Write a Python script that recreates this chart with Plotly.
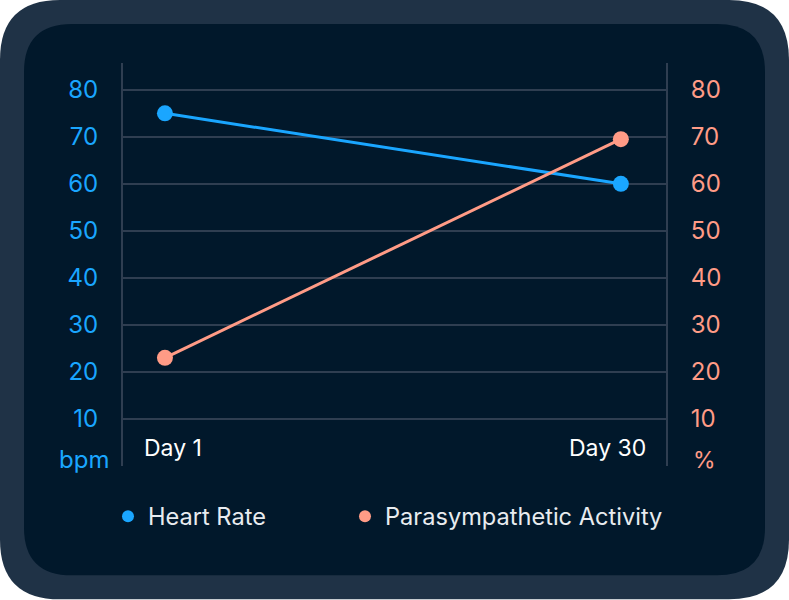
import plotly.graph_objects as go

days = ["Day 1", "Day 30"]
heart_rate = [75, 60]
parasympathetic = [23, 69.5]
y_ticks = [10, 20, 30, 40, 50, 60, 70, 80]
left_unit = "bpm"
right_unit = "%"

BLUE = "#1aa6ff"
SALMON = "#ff9b86"
OUTER = "#1f3246"
INNER = "#01182b"
GRID = "#2f3e51"
FONT = "Inter"

W, H = 789, 600
L, R, T, B = 123, 666, 63, 466.5
x_pos = [0, 1]

def px2paper(px, py):
    return (px - L) / (R - L), (B - py) / (B - T)

def rrect(x0, y0, x1, y1, r):
    def p(x, y):
        a, b = px2paper(x, y)
        return f"{a:.5f},{b:.5f}"
    d = f"M {p(x0 + r, y0)} L {p(x1 - r, y0)} Q {p(x1, y0)} {p(x1, y0 + r)} "
    d += f"L {p(x1, y1 - r)} Q {p(x1, y1)} {p(x1 - r, y1)} "
    d += f"L {p(x0 + r, y1)} Q {p(x0, y1)} {p(x0, y1 - r)} "
    d += f"L {p(x0, y0 + r)} Q {p(x0, y0)} {p(x0 + r, y0)} Z"
    return d

fig = go.Figure()
fig.add_trace(go.Scatter(x=x_pos, y=heart_rate, mode="lines+markers",
                         line=dict(color=BLUE, width=3), marker=dict(size=16, color=BLUE),
                         showlegend=False, yaxis="y"))
fig.add_trace(go.Scatter(x=x_pos, y=parasympathetic, mode="lines+markers",
                         line=dict(color=SALMON, width=3), marker=dict(size=16, color=SALMON),
                         showlegend=False, yaxis="y2"))
fig.add_trace(go.Scatter(x=[None], y=[None], mode="markers", name="Heart Rate",
                         marker=dict(size=12, color=BLUE), legend="legend"))
fig.add_trace(go.Scatter(x=[None], y=[None], mode="markers", name="Parasympathetic Activity",
                         marker=dict(size=12, color=SALMON), legend="legend2"))

shapes = [
    dict(type="path", xref="paper", yref="paper", path=rrect(0, 0, W, H, 60),
         fillcolor=OUTER, line=dict(width=0), layer="below"),
    dict(type="path", xref="paper", yref="paper", path=rrect(24, 24, 765, 576, 48),
         fillcolor=INNER, line=dict(width=0), layer="below"),
]

annotations = [
    dict(text=days[0], xref="paper", yref="paper", x=0, y=(B - 448) / (B - T),
         xanchor="left", yanchor="middle", xshift=19, showarrow=False,
         font=dict(family=FONT, size=23, color="#ffffff")),
    dict(text=days[1], xref="paper", yref="paper", x=1, y=(B - 448) / (B - T),
         xanchor="right", yanchor="middle", xshift=-18, showarrow=False,
         font=dict(family=FONT, size=23, color="#ffffff")),
    dict(text=left_unit, xref="paper", yref="paper", x=(84 - L) / (R - L), y=(B - 460) / (B - T),
         xanchor="center", yanchor="middle", showarrow=False,
         font=dict(family=FONT, size=24, color=BLUE)),
    dict(text=right_unit, xref="paper", yref="paper", x=(704.5 - L) / (R - L), y=(B - 460) / (B - T),
         xanchor="center", yanchor="middle", showarrow=False,
         font=dict(family=FONT, size=23, color=SALMON)),
]

legend_common = dict(orientation="h", y=(B - 517) / (B - T), yanchor="middle", xanchor="left",
                     font=dict(family=FONT, size=23.6, color="#e8ebef"),
                     bgcolor="rgba(0,0,0,0)", itemwidth=30)

fig.update_layout(
    width=W, height=H,
    margin=dict(l=L, r=W - R, t=T, b=H - B, pad=0),
    paper_bgcolor="#ffffff", plot_bgcolor="rgba(0,0,0,0)",
    shapes=shapes, annotations=annotations,
    xaxis=dict(range=[-0.092, 1.099], showgrid=False, zeroline=False, showticklabels=False,
               showline=False, fixedrange=True),
    yaxis=dict(range=[0, 85.7], tickvals=y_ticks, showgrid=True, gridcolor=GRID, gridwidth=2,
               zeroline=False, showline=True, linecolor=GRID, linewidth=2, ticks="",
               ticklabelstandoff=18,
               tickfont=dict(family=FONT, size=24, color=BLUE)),
    yaxis2=dict(range=[0, 85.7], tickvals=y_ticks, overlaying="y", side="right", showgrid=False,
                zeroline=False, showline=True, linecolor=GRID, linewidth=2, ticks="",
                ticklabelstandoff=18,
                tickfont=dict(family=FONT, size=24, color=SALMON)),
    legend=dict(x=(108 - L) / (R - L), **legend_common),
    legend2=dict(x=(345 - L) / (R - L), **legend_common),
    showlegend=True,
)

fig.write_html("out.html", config={"displayModeBar": False},
               post_script="document.body.style.margin='0';document.body.style.padding='0';")
